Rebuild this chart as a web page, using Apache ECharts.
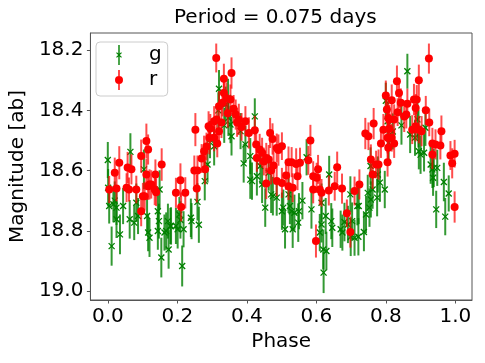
<!DOCTYPE html>
<html>
<head>
<meta charset="utf-8">
<script src="https://cdn.jsdelivr.net/npm/echarts@6/dist/echarts.min.js"></script>
<style>html,body{margin:0;padding:0;background:#fff}#c{width:485px;height:363px}</style>
</head>
<body>
<div id="c"></div>
<script>
// ---- data: [phase, magnitude, error] ----
const titleText = 'Period = 0.075 days';
const xTicks = [0.0, 0.2, 0.4, 0.6, 0.8, 1.0];
const yTicks = [18.2, 18.4, 18.6, 18.8, 19.0];
const seriesNames = ['g', 'r'];

const gPoints = [
[0.000,18.565,0.060],[0.001,18.657,0.062],[0.004,18.718,0.058],[0.011,18.851,0.065],
[0.016,18.712,0.060],[0.020,18.700,0.064],[0.025,18.723,0.058],[0.025,18.762,0.062],
[0.035,18.812,0.066],[0.044,18.718,0.060],[0.063,18.762,0.064],[0.065,18.538,0.062],
[0.076,18.773,0.058],[0.082,18.707,0.064],[0.087,18.751,0.060],[0.104,18.596,0.066],
[0.113,18.751,0.060],[0.116,18.806,0.062],[0.120,18.823,0.064],[0.144,18.735,0.060],
[0.144,18.801,0.062],[0.147,18.768,0.058],[0.149,18.663,0.064],[0.154,18.889,0.066],
[0.163,18.806,0.060],[0.168,18.801,0.062],[0.173,18.768,0.058],[0.175,18.862,0.064],
[0.180,18.784,0.060],[0.182,18.784,0.062],[0.196,18.784,0.060],[0.201,18.795,0.064],
[0.206,18.746,0.058],[0.209,18.764,0.062],[0.214,18.917,0.068],[0.218,18.795,0.060],
[0.239,18.757,0.064],[0.241,18.768,0.060],[0.258,18.704,0.062],[0.262,18.780,0.060],
[0.279,18.635,0.064],[0.287,18.580,0.060],[0.294,18.497,0.062],[0.306,18.519,0.064],
[0.318,18.400,0.060],[0.320,18.328,0.062],[0.335,18.450,0.058],[0.339,18.381,0.060],
[0.346,18.359,0.064],[0.347,18.425,0.060],[0.353,18.447,0.062],[0.356,18.486,0.064],
[0.382,18.469,0.060],[0.391,18.576,0.064],[0.396,18.513,0.062],[0.410,18.552,0.060],
[0.410,18.630,0.064],[0.415,18.635,0.062],[0.423,18.420,0.060],[0.429,18.619,0.064],
[0.439,18.585,0.060],[0.444,18.646,0.062],[0.453,18.723,0.064],[0.463,18.607,0.060],
[0.470,18.679,0.062],[0.475,18.685,0.064],[0.486,18.690,0.060],[0.501,18.735,0.062],
[0.505,18.723,0.060],[0.510,18.795,0.064],[0.520,18.679,0.062],[0.524,18.718,0.060],
[0.529,18.735,0.064],[0.532,18.795,0.062],[0.537,18.740,0.060],[0.548,18.773,0.064],
[0.550,18.735,0.060],[0.560,18.700,0.062],[0.572,18.556,0.060],[0.586,18.729,0.064],
[0.610,18.806,0.062],[0.615,18.779,0.060],[0.615,18.707,0.064],[0.620,18.862,0.066],
[0.621,18.939,0.068],[0.627,18.751,0.060],[0.629,18.867,0.064],[0.637,18.613,0.062],
[0.643,18.768,0.060],[0.646,18.790,0.064],[0.670,18.795,0.062],[0.675,18.806,0.060],
[0.681,18.771,0.064],[0.691,18.779,0.062],[0.698,18.679,0.060],[0.699,18.820,0.064],
[0.703,18.768,0.062],[0.710,18.823,0.060],[0.718,18.718,0.064],[0.721,18.820,0.062],
[0.722,18.718,0.060],[0.737,18.804,0.064],[0.743,18.746,0.062],[0.748,18.674,0.060],
[0.753,18.723,0.064],[0.756,18.585,0.062],[0.757,18.696,0.060],[0.762,18.663,0.064],
[0.775,18.690,0.062],[0.777,18.613,0.060],[0.783,18.640,0.064],[0.797,18.663,0.062],
[0.800,18.368,0.060],[0.805,18.436,0.064],[0.808,18.508,0.062],[0.820,18.470,0.060],
[0.845,18.450,0.064],[0.862,18.270,0.058],[0.870,18.480,0.062],[0.884,18.491,0.060],
[0.891,18.430,0.064],[0.894,18.461,0.062],[0.895,18.536,0.060],[0.900,18.547,0.064],
[0.910,18.541,0.062],[0.914,18.458,0.060],[0.929,18.580,0.064],[0.934,18.596,0.062],
[0.936,18.624,0.060],[0.938,18.591,0.064],[0.945,18.729,0.062],[0.948,18.591,0.060],
[0.967,18.638,0.064],[0.971,18.753,0.062],[0.981,18.676,0.060]
];

const rPoints = [
[0.004,18.663,0.045],[0.020,18.607,0.050],[0.025,18.660,0.042],[0.033,18.574,0.055],
[0.054,18.657,0.048],[0.057,18.590,0.052],[0.061,18.663,0.040],[0.068,18.596,0.050],
[0.082,18.663,0.046],[0.096,18.552,0.055],[0.096,18.735,0.050],[0.101,18.685,0.044],
[0.106,18.685,0.048],[0.111,18.502,0.058],[0.111,18.613,0.052],[0.116,18.530,0.050],
[0.116,18.652,0.045],[0.120,18.646,0.050],[0.125,18.646,0.047],[0.135,18.663,0.052],
[0.137,18.613,0.050],[0.139,18.672,0.046],[0.155,18.580,0.054],[0.196,18.674,0.050],
[0.209,18.632,0.056],[0.211,18.721,0.048],[0.223,18.674,0.052],[0.249,18.600,0.050],
[0.252,18.464,0.055],[0.256,18.660,0.046],[0.258,18.600,0.050],[0.270,18.560,0.048],
[0.277,18.536,0.052],[0.280,18.596,0.050],[0.284,18.520,0.046],[0.290,18.453,0.050],
[0.292,18.491,0.055],[0.295,18.460,0.048],[0.306,18.436,0.050],[0.306,18.491,0.045],
[0.312,18.226,0.048],[0.313,18.430,0.052],[0.315,18.510,0.046],[0.320,18.386,0.050],
[0.320,18.469,0.048],[0.327,18.440,0.052],[0.330,18.375,0.045],[0.334,18.295,0.050],
[0.334,18.342,0.046],[0.341,18.359,0.052],[0.345,18.410,0.048],[0.353,18.364,0.050],
[0.356,18.276,0.052],[0.362,18.395,0.046],[0.368,18.414,0.050],[0.372,18.440,0.048],
[0.377,18.430,0.052],[0.385,18.455,0.046],[0.396,18.436,0.050],[0.406,18.475,0.052],
[0.423,18.466,0.048],[0.427,18.513,0.050],[0.429,18.558,0.046],[0.437,18.530,0.052],
[0.444,18.541,0.050],[0.449,18.570,0.046],[0.456,18.558,0.050],[0.456,18.643,0.052],
[0.463,18.563,0.048],[0.467,18.475,0.050],[0.470,18.600,0.046],[0.474,18.495,0.052],
[0.477,18.583,0.050],[0.486,18.525,0.048],[0.486,18.635,0.050],[0.491,18.532,0.052],
[0.501,18.519,0.046],[0.501,18.641,0.050],[0.513,18.616,0.048],[0.520,18.572,0.052],
[0.520,18.652,0.046],[0.529,18.572,0.050],[0.532,18.657,0.048],[0.542,18.578,0.052],
[0.546,18.619,0.046],[0.553,18.574,0.050],[0.577,18.566,0.048],[0.583,18.500,0.052],
[0.591,18.619,0.050],[0.591,18.663,0.046],[0.599,18.834,0.055],[0.601,18.624,0.050],
[0.605,18.596,0.048],[0.610,18.663,0.052],[0.615,18.674,0.046],[0.636,18.666,0.050],
[0.653,18.652,0.048],[0.660,18.589,0.052],[0.674,18.660,0.050],[0.688,18.742,0.046],
[0.698,18.804,0.052],[0.710,18.668,0.048],[0.724,18.646,0.050],[0.741,18.477,0.052],
[0.750,18.486,0.046],[0.757,18.563,0.050],[0.762,18.613,0.048],[0.765,18.444,0.052],
[0.772,18.580,0.046],[0.779,18.580,0.050],[0.786,18.510,0.048],[0.793,18.464,0.052],
[0.800,18.351,0.050],[0.803,18.397,0.046],[0.805,18.491,0.052],[0.805,18.572,0.048],
[0.807,18.425,0.050],[0.807,18.524,0.046],[0.810,18.461,0.050],[0.810,18.430,0.048],
[0.817,18.366,0.052],[0.817,18.491,0.046],[0.824,18.430,0.050],[0.824,18.510,0.048],
[0.832,18.303,0.052],[0.834,18.406,0.046],[0.838,18.342,0.050],[0.843,18.375,0.048],
[0.853,18.420,0.052],[0.859,18.414,0.046],[0.862,18.378,0.050],[0.876,18.464,0.048],
[0.881,18.364,0.052],[0.886,18.392,0.046],[0.886,18.453,0.050],[0.889,18.364,0.048],
[0.895,18.300,0.052],[0.895,18.464,0.046],[0.903,18.469,0.050],[0.915,18.400,0.048],
[0.924,18.228,0.050],[0.925,18.440,0.046],[0.934,18.510,0.052],[0.934,18.547,0.048],
[0.943,18.513,0.050],[0.957,18.517,0.046],[0.960,18.469,0.052],[0.986,18.550,0.048],
[0.991,18.576,0.050],[0.998,18.544,0.046],[0.998,18.721,0.052]
];

const G_COLOR = '#008000';
const R_COLOR = '#ff0000';
const FONT = 'DejaVu Sans';
const FRAME = '#555';
const FS = 20;

const chart = echarts.init(document.getElementById('c'), null, {renderer: 'canvas'});

function errBar(color, opacity) {
  return function (params, api) {
    const x = api.value(0), y = api.value(1), e = api.value(2);
    const a = api.coord([x, y - e]), b = api.coord([x, y + e]);
    return {type: 'line', shape: {x1: a[0], y1: a[1], x2: b[0], y2: b[1]},
      style: {stroke: color, lineWidth: 2, opacity: opacity}};
  };
}
function xMarker(params, api) {
  const p = api.coord([api.value(0), api.value(1)]);
  const s = 3;
  return {type: 'group', children: [
    {type: 'line', shape: {x1: p[0]-s, y1: p[1]-s, x2: p[0]+s, y2: p[1]+s}, style: {stroke: G_COLOR, lineWidth: 1.3}},
    {type: 'line', shape: {x1: p[0]-s, y1: p[1]+s, x2: p[0]+s, y2: p[1]-s}, style: {stroke: G_COLOR, lineWidth: 1.3}}
  ]};
}

const gIcon = 'path://M2.8,0 L4.2,0 L4.2,20 L2.8,20 Z M0.6,8 L1.4,7.2 L6.4,12 L5.6,12.8 Z M5.6,7.2 L6.4,8 L1.4,12.8 L0.6,12 Z';
const rIcon = 'path://M2.8,0 L4.2,0 L4.2,20 L2.8,20 Z M7.5,10 A4,4 0 1 1 -0.5,10 A4,4 0 1 1 7.5,10 Z';

chart.setOption({
  animation: false,
  backgroundColor: '#fff',
  title: {text: titleText, left: 174, top: 8, padding: 0,
    textStyle: {fontFamily: FONT, fontSize: FS, fontWeight: 'normal', color: '#000'}},
  legend: {
    orient: 'vertical', left: 96, top: 42,
    padding: [3, 6, 6, 19],
    itemWidth: 8, itemHeight: 20, itemGap: 5,
    borderColor: '#cccccc', borderWidth: 1, borderRadius: 4,
    backgroundColor: 'rgba(255,255,255,0.8)',
    textStyle: {fontFamily: FONT, fontSize: FS, color: '#000', lineHeight: 20, padding: [0, 0, 0, 21]},
    data: [
      {name: seriesNames[0], icon: gIcon, itemStyle: {color: G_COLOR}},
      {name: seriesNames[1], icon: rIcon, itemStyle: {color: R_COLOR}}
    ]
  },
  grid: {left: 87, top: 33, width: 385, height: 267, show: true, borderColor: FRAME, borderWidth: 1, backgroundColor: 'transparent'},
  xAxis: {
    type: 'value', min: -0.05, max: 1.048,
    name: 'Phase', nameLocation: 'middle', nameGap: 28,
    nameTextStyle: {fontFamily: FONT, fontSize: FS, color: '#000'},
    axisLine: {show: true, onZero: false, lineStyle: {color: FRAME}},
    axisTick: {show: true, length: 3.5, customValues: xTicks, lineStyle: {color: FRAME}},
    axisLabel: {customValues: xTicks, margin: 7, fontFamily: FONT, fontSize: FS, color: '#000',
      formatter: v => v.toFixed(1)},
    splitLine: {show: false}
  },
  yAxis: {
    type: 'value', min: 18.143, max: 19.030, inverse: true,
    name: 'Magnitude [ab]', nameLocation: 'middle', nameGap: 49,
    nameTextStyle: {fontFamily: FONT, fontSize: FS, color: '#000'},
    axisLine: {show: true, onZero: false, lineStyle: {color: FRAME}},
    axisTick: {show: true, length: 3.5, customValues: yTicks, lineStyle: {color: FRAME}},
    axisLabel: {customValues: yTicks, margin: 7, fontFamily: FONT, fontSize: FS, color: '#000',
      formatter: v => v.toFixed(1)},
    splitLine: {show: false}
  },
  series: [
    {name: seriesNames[0], type: 'custom', data: gPoints, encode: {x: 0, y: 1},
      renderItem: errBar(G_COLOR, 0.8), itemStyle: {color: G_COLOR}, z: 2},
    {name: seriesNames[0], type: 'custom', data: gPoints, encode: {x: 0, y: 1},
      renderItem: xMarker, itemStyle: {color: G_COLOR}, z: 3},
    {name: seriesNames[1], type: 'custom', data: rPoints, encode: {x: 0, y: 1},
      renderItem: errBar(R_COLOR, 0.7), itemStyle: {color: R_COLOR}, z: 4},
    {name: seriesNames[1], type: 'scatter', data: rPoints, encode: {x: 0, y: 1},
      symbol: 'circle', symbolSize: 8, itemStyle: {color: R_COLOR, opacity: 1}, z: 5}
  ]
});
</script>
</body>
</html>
